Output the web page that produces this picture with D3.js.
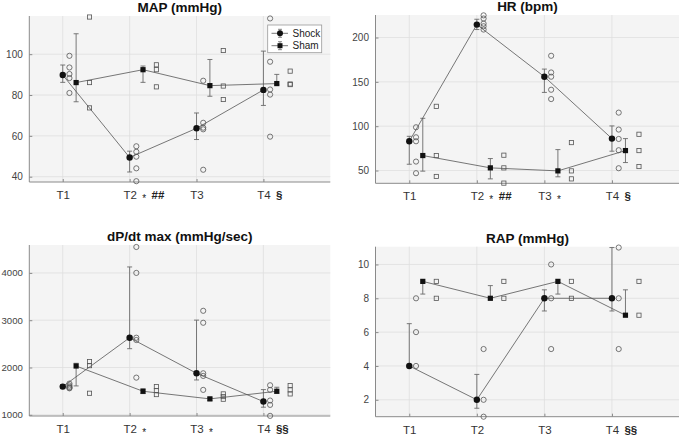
<!DOCTYPE html>
<html><head><meta charset="utf-8">
<script src="https://cdn.jsdelivr.net/npm/d3@7"></script>
<style>body{margin:0;background:#fff}svg{display:block;font-family:"Liberation Sans",Arial,sans-serif}</style>
</head><body><svg id="c" width="679" height="440"></svg>
<script>
const timepoints = ["T1","T2","T3","T4"];
const seriesNames = ["Shock","Sham"];

// MAP (mmHg)
const mapShockMean = [89.8, 49.4, 63.7, 82.5];
const mapShockHi   = [94.7, 52.5, 71.2, 101.5];
const mapShockLo   = [86.2, 42.3, 58.2, 74.9];
const mapShamMean  = [86.1, 92.4, 84.6, 85.6];
const mapShamHi    = [110.0, 94.2, 97.4, 90.1];
const mapShamLo    = [76.7, 86.2, 79.4, 85.0];
const mapShockInd  = [[99.2,93.5,90.3,88.3,81.0],[54.9,52.2,49.8,44.1,37.8],[87.0,66.4,64.0,63.2,43.4],[117.5,96.3,82.7,80.2,59.6]];
const mapShamInd   = [[118.2,86.1,73.7],[94.8,92.4,84.0],[101.8,84.4,77.8],[91.7,85.4,85.1]];
const mapTicks = [40,60,80,100];
const mapNotes = ["", "* ##", "", "§"];

// HR (bpm)
const hrShockMean = [83.0, 214.6, 155.8, 86.0];
const hrShockHi   = [88.6, 220.6, 164.4, 100.3];
const hrShockLo   = [57.1, 209.0, 138.1, 71.8];
const hrShamMean  = [66.9, 53.0, 49.6, 72.5];
const hrShamHi    = [108.9, 63.5, 73.6, 86.0];
const hrShamLo    = [49.3, 40.6, 42.9, 59.0];
const hrShockInd  = [[98.8,87.5,83.0,60.1,47.0],[225.0,221.4,215.7,212.7,209.0],[179.4,160.6,155.8,141.1,130.6],[115.3,96.2,85.6,72.9,52.6]];
const hrShamInd   = [[122.4,66.9,43.3],[67.3,53.0,35.8],[81.5,49.6,40.6],[90.9,72.5,54.5]];
const hrTicks = [50,100,150,200];
const hrNotes = ["", "* ##", "*", "§"];

// dP/dt max (mmHg/sec)
const dpShockMean = [1597, 2630, 1878, 1280];
const dpShockHi   = [1640, 4126, 3002, 1533];
const dpShockLo   = [1570, 2398, 1737, 1161];
const dpShamMean  = [2032, 1498, 1337, 1498];
const dpShamHi    = [2089, 1548, 1370, 1583];
const dpShamLo    = [1611, 1449, 1300, 1456];
const dpShockInd  = [[1660,1620,1590,1570,1560],[4548,4000,2630,2581,1786],[3199,2946,1878,1822,1527],[1625,1527,1302,1210,978]];
const dpShamInd   = [[2124,2040,1456],[1597,1512,1428],[1442,1386,1330],[1618,1527,1442]];
const dpTicks = [1000,2000,3000,4000];
const dpNotes = ["", "*", "*", "§§"];

// RAP (mmHg)
const rapShockMean = [4, 2, 8, 8];
const rapShockHi   = [6.5, 3.5, 8.5, 11];
const rapShockLo   = [4, 1.5, 7.25, 7.25];
const rapShamMean  = [9, 8, 9, 7];
const rapShamHi    = [9, 8.75, 9, 8.5];
const rapShamLo    = [8.25, 8, 8.25, 7];
const rapShockInd  = [[8,6,4],[5,2,1],[10,8,5],[11,8,5]];
const rapShamInd   = [[9,8],[9,8],[9,8],[9,7]];
const rapTicks = [2,4,6,8,10];
const rapNotes = ["", "", "", "§§"];

const panels = [
  {title:"MAP (mmHg)", box:[29.3,16,330.3,182], dom:[37.4,118.7], ticks:mapTicks, notes:mapNotes, legend:true,
   sm:mapShockMean, sh:mapShockHi, sl:mapShockLo, hm:mapShamMean, hh:mapShamHi, hl:mapShamLo, si:mapShockInd, hi:mapShamInd},
  {title:"HR (bpm)", box:[375.5,15,679.5,183.3], dom:[35.6,225.4], ticks:hrTicks, notes:hrNotes,
   sm:hrShockMean, sh:hrShockHi, sl:hrShockLo, hm:hrShamMean, hh:hrShamHi, hl:hrShamLo, si:hrShockInd, hi:hrShamInd},
  {title:"dP/dt max (mmHg/sec)", box:[29.3,245,330.3,416], dom:[975,4590], ticks:dpTicks, notes:dpNotes,
   sm:dpShockMean, sh:dpShockHi, sl:dpShockLo, hm:dpShamMean, hh:dpShamHi, hl:dpShamLo, si:dpShockInd, hi:dpShamInd},
  {title:"RAP (mmHg)", box:[375.5,246.7,679.5,416.7], dom:[1,11.05], ticks:rapTicks, notes:rapNotes,
   sm:rapShockMean, sh:rapShockHi, sl:rapShockLo, hm:rapShamMean, hh:rapShamHi, hl:rapShamLo, si:rapShockInd, hi:rapShamInd}
];

const svg = d3.select("#c");
const BG="#f4f4f4", GRID="#dedede", AX="#8a8a8a", LINE="#555", EB="#6a6a6a", OPEN="#555";

panels.forEach(p=>{
  const [x0,y0,x1,y1]=p.box;
  const x = d3.scaleLinear().domain([0.5,5]).range([x0,x1]);
  const y = d3.scaleLinear().domain(p.dom).range([y1,y0]);
  const g = svg.append("g");
  const cid = "clip"+Math.round(x0)+"_"+Math.round(y0);
  svg.append("clipPath").attr("id",cid).append("rect").attr("x",x0).attr("y",y0-4).attr("width",x1-x0+2).attr("height",y1-y0+8);
  g.append("rect").attr("x",x0).attr("y",y0).attr("width",x1-x0).attr("height",y1-y0).attr("fill",BG);
  // grid
  g.selectAll(".gy").data(p.ticks).join("line").attr("x1",x0).attr("x2",x1).attr("y1",d=>y(d)).attr("y2",d=>y(d)).attr("stroke",GRID).attr("stroke-width",0.8);
  g.selectAll(".gx").data(timepoints).join("line").attr("x1",(d,i)=>x(i+1)).attr("x2",(d,i)=>x(i+1)).attr("y1",y0).attr("y2",y1).attr("stroke",GRID).attr("stroke-width",0.8);
  // axes
  const ya = d3.axisLeft(y).tickValues(p.ticks).tickFormat(d3.format("d")).tickSize(-3).tickPadding(6.5);
  const yg = g.append("g").attr("transform",`translate(${x0},0)`).call(ya);
  yg.select(".domain").attr("stroke",AX).attr("d",`M0,${y0}V${y1}`);
  yg.selectAll(".tick line").attr("stroke",AX);
  yg.selectAll("text").attr("font-size",p.ticks[p.ticks.length-1]>=1000?9.6:10).attr("fill","#444").attr("font-family","Liberation Sans, Arial, sans-serif");
  const xa = d3.axisBottom(x).tickValues([1,2,3,4]).tickFormat((d)=>timepoints[d-1]).tickSize(-3).tickPadding(9);
  const xg = g.append("g").attr("transform",`translate(0,${y1})`).call(xa);
  xg.select(".domain").attr("stroke",AX).attr("d",`M${x0},0H${x1}`);
  xg.selectAll(".tick line").attr("stroke",AX);
  xg.selectAll("text").attr("font-size",11.5).attr("fill","#333").attr("font-family","Liberation Sans, Arial, sans-serif");
  // notes
  p.notes.forEach((n,i)=>{
    if(!n) return;
    const t = g.append("text").attr("x",x(i+1)+12.5).attr("y",y1+17).attr("font-size",11.5).attr("fill","#222").attr("font-weight","bold");
    n.split(" ").forEach((part,k)=>{
      if(part==="*"){
        t.append("tspan").text("*").attr("font-size",10).attr("font-weight","normal").attr("dy",3);
        t.append("tspan").text("\u2009").attr("dy",-3);
      } else {
        t.append("tspan").text((k>0?" ":"")+part);
      }
    });
  });
  // title
  svg.append("text").attr("x",(x0+x1)/2+0).attr("y",y0-4).attr("text-anchor","middle").attr("font-size",13.5).attr("font-weight","bold").attr("fill","#111").text(p.title);

  const pg = g.append("g").attr("clip-path",`url(#${cid})`);
  // error bars
  const eb = (mean,hi,lo,off)=>{
    mean.forEach((m,i)=>{
      const cx=x(i+1+off);
      pg.append("line").attr("x1",cx).attr("x2",cx).attr("y1",y(hi[i])).attr("y2",y(lo[i])).attr("stroke",EB).attr("stroke-width",0.9);
      [hi[i],lo[i]].forEach(v=>{ if(Math.abs(v-m)>1e-9) pg.append("line").attr("x1",cx-2.5).attr("x2",cx+2.5).attr("y1",y(v)).attr("y2",y(v)).attr("stroke",EB).attr("stroke-width",0.9);});
    });
  };
  eb(p.sm,p.sh,p.sl,0); eb(p.hm,p.hh,p.hl,0.2);
  // lines
  const ln = off=>d3.line().x((d,i)=>x(i+1+off)).y(d=>y(d));
  pg.append("path").attr("d",ln(0)(p.sm)).attr("fill","none").attr("stroke",LINE).attr("stroke-width",0.8);
  pg.append("path").attr("d",ln(0.2)(p.hm)).attr("fill","none").attr("stroke",LINE).attr("stroke-width",0.8);
  // individual
  p.si.forEach((arr,i)=>arr.forEach(v=>pg.append("circle").attr("cx",x(i+1.1)).attr("cy",y(v)).attr("r",2.6).attr("fill","none").attr("stroke",OPEN).attr("stroke-width",0.8)));
  p.hi.forEach((arr,i)=>arr.forEach(v=>pg.append("rect").attr("x",x(i+1.4)-2.1).attr("y",y(v)-2.1).attr("width",4.2).attr("height",4.2).attr("fill","none").attr("stroke",OPEN).attr("stroke-width",0.8)));
  // means
  p.sm.forEach((v,i)=>pg.append("circle").attr("cx",x(i+1)).attr("cy",y(v)).attr("r",3.2).attr("fill","#111"));
  p.hm.forEach((v,i)=>pg.append("rect").attr("x",x(i+1.2)-2.6).attr("y",y(v)-2.6).attr("width",5.2).attr("height",5.2).attr("fill","#111"));

  if(p.legend){
    const lg = svg.append("g");
    lg.append("rect").attr("x",267.7).attr("y",25).attr("width",54).attr("height",27.7).attr("fill","#fff").attr("stroke","#999").attr("stroke-width",0.8);
    seriesNames.forEach((nm,k)=>{
      const ly = 33.3 + k*12.4;
      lg.append("line").attr("x1",271.5).attr("x2",288).attr("y1",ly).attr("y2",ly).attr("stroke",LINE).attr("stroke-width",0.8);
      lg.append("line").attr("x1",280).attr("x2",280).attr("y1",ly-4).attr("y2",ly+4).attr("stroke",EB).attr("stroke-width",0.8);
      [ly-4,ly+4].forEach(yy=>lg.append("line").attr("x1",278).attr("x2",282).attr("y1",yy).attr("y2",yy).attr("stroke",EB).attr("stroke-width",0.8));
      if(k===0) lg.append("circle").attr("cx",280).attr("cy",ly).attr("r",3).attr("fill","#111");
      else lg.append("rect").attr("x",277.5).attr("y",ly-2.5).attr("width",5).attr("height",5).attr("fill","#111");
      lg.append("text").attr("x",292.5).attr("y",ly+3.5).attr("font-size",10).attr("fill","#222").text(nm);
    });
  }
});
</script></body></html>
